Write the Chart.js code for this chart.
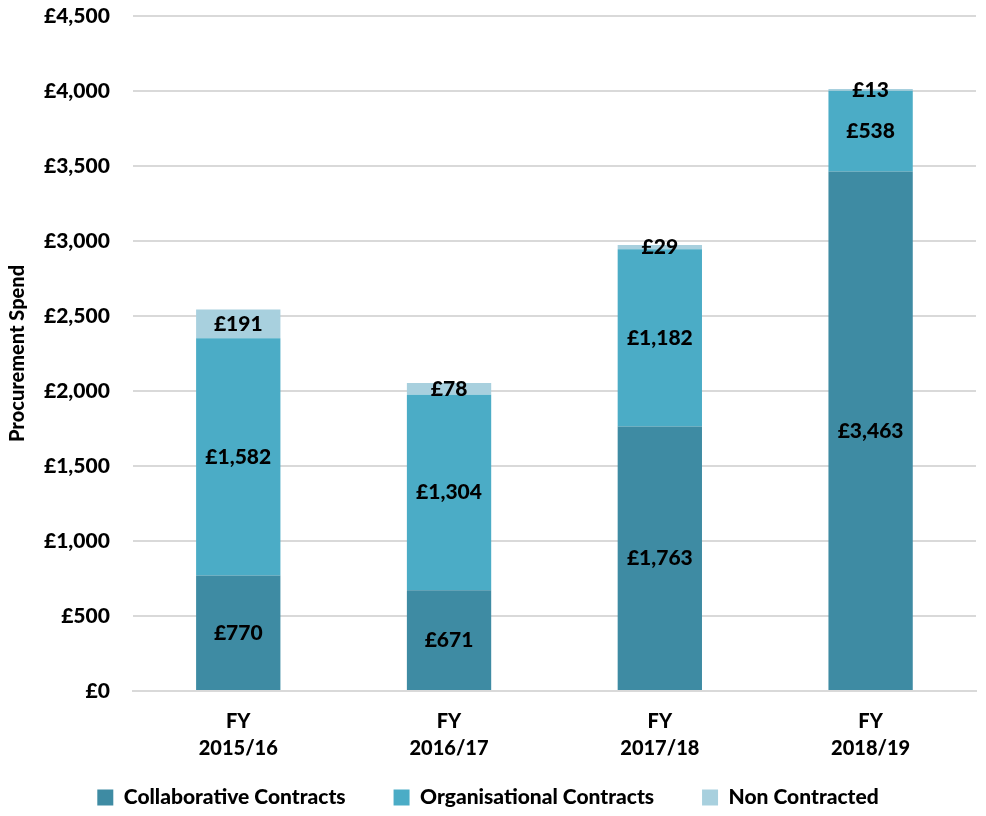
<!DOCTYPE html>
<html>
<head>
<meta charset="utf-8">
<script src="https://cdn.jsdelivr.net/npm/chart.js@4"></script>
<style>
  html, body { margin: 0; padding: 0; background: #fff; }
  #wrap { width: 986px; height: 816px; }
</style>
</head>
<body>
<div id="wrap"><canvas id="myChart" width="986" height="816"></canvas></div>
<script>
// Financial years along the x-axis
var years = [['FY', '2015/16'], ['FY', '2016/17'], ['FY', '2017/18'], ['FY', '2018/19']];
// Spend per contract type
var collaborative = [770, 671, 1763, 3463];
var organisational = [1582, 1304, 1182, 538];
var nonContracted = [191, 78, 29, 13];

function money(v) {
  return '£' + v.toLocaleString('en-GB');
}

// draw the value in the middle of each bar segment
var segmentLabels = {
  id: 'segmentLabels',
  afterDatasetsDraw: function(chart) {
    var ctx = chart.ctx;
    ctx.save();
    ctx.font = '900 21px Lato';
    ctx.fillStyle = '#000';
    ctx.textAlign = 'center';
    ctx.textBaseline = 'middle';
    chart.data.datasets.forEach(function(ds, i) {
      chart.getDatasetMeta(i).data.forEach(function(bar, j) {
        var mid = (bar.y + bar.base) / 2;
        ctx.fillText(money(ds.data[j]), bar.x, mid);
      });
    });
    ctx.restore();
  }
};

var ctx = document.getElementById('myChart');
var myChart = new Chart(ctx, {
  type: 'bar',
  data: {
    labels: years,
    datasets: [
      { label: 'Collaborative Contracts', data: collaborative, backgroundColor: '#3E8BA3' },
      { label: 'Organisational Contracts', data: organisational, backgroundColor: '#4BACC6' },
      { label: 'Non Contracted', data: nonContracted, backgroundColor: '#A8D0DE' }
    ]
  },
  options: {
    responsive: false,
    animation: false,
    layout: { padding: { top: 16, right: 10, left: 0, bottom: -2 } },
    datasets: { bar: { barPercentage: 0.4, categoryPercentage: 1 } },
    plugins: {
      legend: {
        position: 'bottom',
        labels: {
          color: '#000',
          font: { family: 'Lato', size: 21, weight: '900' },
          boxWidth: 16, boxHeight: 16, padding: 8,
          generateLabels: function(chart) {
            var items = Chart.defaults.plugins.legend.labels.generateLabels(chart);
            items.forEach(function(it, i) {
              if (i < items.length - 1) it.text = it.text + '        ';
            });
            return items;
          }
        }
      },
      tooltip: { enabled: false }
    },
    scales: {
      x: {
        stacked: true,
        grid: { display: false, drawTicks: false },
        border: { color: '#d9d9d9', width: 2 },
        ticks: { color: '#000', font: { family: 'Lato', size: 20, weight: '900', lineHeight: 1.35 }, padding: 17 }
      },
      y: {
        stacked: true,
        min: 0, max: 4500,
        // trim the spare room Chart.js leaves between the title and the tick labels
        afterFit: function(scale) { scale.paddingTop = 0; scale.width -= 9; },
        ticks: {
          stepSize: 500,
          color: '#000',
          padding: 23,
          font: { family: 'Lato', size: 21, weight: '900' },
          callback: function(v) { return money(v); }
        },
        grid: { color: '#d9d9d9', lineWidth: 2, drawTicks: false, tickLength: 0 },
        border: { display: false },
        title: {
          display: true,
          text: 'Procurement Spend',
          color: '#000',
          font: { family: 'Lato', size: 20, weight: '900' },
          padding: { top: 6, bottom: 0 }
        }
      }
    }
  },
  plugins: [segmentLabels]
});
</script>
</body>
</html>
